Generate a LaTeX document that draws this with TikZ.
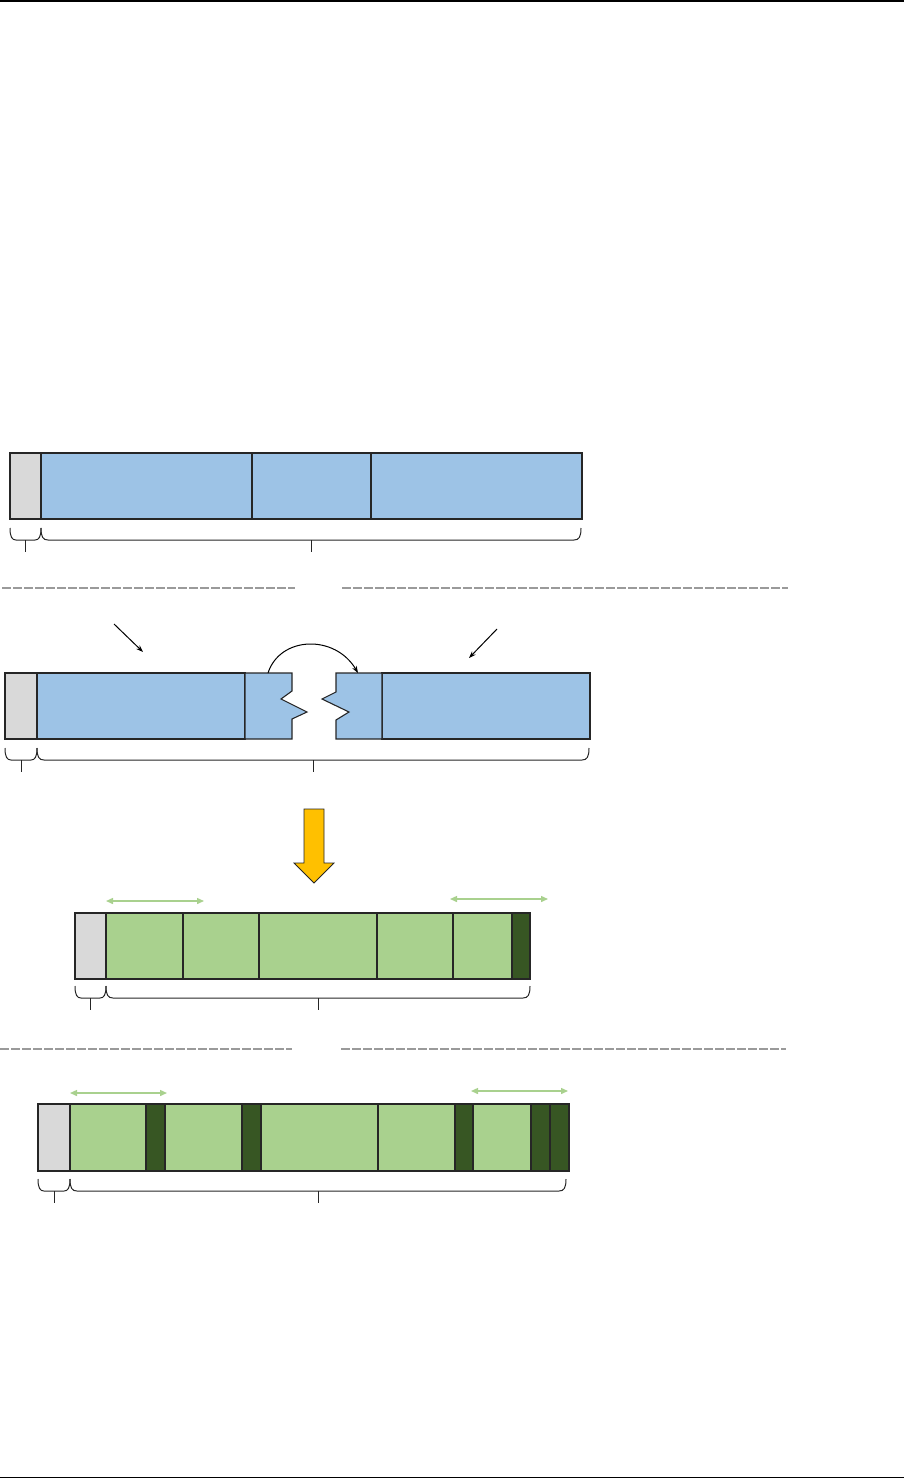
\documentclass[tikz,border=0pt]{standalone}
\usetikzlibrary{arrows.meta}
\definecolor{cblue}{HTML}{9DC3E6}
\definecolor{cgray}{HTML}{D9D9D9}
\definecolor{cgreen}{HTML}{A9D18E}
\definecolor{cdark}{HTML}{375623}
\definecolor{cyell}{HTML}{FFC000}
\definecolor{cdash}{HTML}{9A9A9A}
\tikzset{
  cell/.style={draw=black!85,line width=1.1pt,inner sep=0pt,outer sep=0pt,anchor=north west},
  bracepath/.style={draw=black!85,line width=1pt},
  dashline/.style={draw=cdash,line width=1.4pt,dash pattern=on 9pt off 2pt},
  greenarr/.style={draw=cgreen,line width=1.4pt,{Triangle[length=7pt,width=6pt]}-{Triangle[length=7pt,width=6pt]}},
  blackarr/.style={draw=black,line width=1pt,-{Stealth[length=7pt,width=5pt]}},
}
\newcommand\cell[6]{\node[cell,fill=#6,minimum width={(#3-#2)*1pt},minimum height={(#5-#4)*1pt}] (#1) at (#2,#4) {};}
\newcommand\mybrace[3]{%
  \draw[bracepath] (#1,#3) .. controls (#1,#3+9) and (#1+2,#3+12) .. (#1+7,#3+12)
     -- (#2-7,#3+12) .. controls (#2-2,#3+12) and (#2,#3+9) .. (#2,#3);
  \draw[bracepath] ({(#1+#2)/2},#3+12) -- ({(#1+#2)/2},#3+24);}
\newcommand\mysmallbrace[3]{%
  \draw[bracepath] (#1,#3) .. controls (#1,#3+9) and (#1+2,#3+12) .. (#1+6,#3+12)
     -- (#2-6,#3+12) .. controls (#2-2,#3+12) and (#2,#3+9) .. (#2,#3);
  \draw[bracepath] ({(#1+#2)/2},#3+12) -- ({(#1+#2)/2},#3+24);}
\begin{document}
\begin{tikzpicture}[x=1pt,y=-1pt]
\useasboundingbox (0,0) rectangle (904,1479);
% page rules
\coordinate (tl) at (0,1); \coordinate (tr) at (904,1);
\coordinate (bl) at (0,1477.5); \coordinate (br) at (904,1477.5);
\draw[line width=1.3pt] (tl) -- (tr);
\draw[line width=1.3pt] (bl) -- (br);

% Row 1
\cell{a0}{10}{41}{453}{519}{cgray}
\cell{a1}{41}{252}{453}{519}{cblue}
\cell{a2}{252}{371}{453}{519}{cblue}
\cell{a3}{371}{582}{453}{519}{cblue}
\mysmallbrace{10}{41}{528}
\mybrace{41}{581}{528}

% dashed rule 1
\coordinate (d1a) at (2,588); \coordinate (d1b) at (295,588);
\coordinate (d1c) at (342,588); \coordinate (d1d) at (788,588);
\draw[dashline] (d1a) -- (d1b);
\draw[dashline] (d1c) -- (d1d);

% Row 2
\cell{b0}{5}{37}{673}{739}{cgray}
\cell{b1}{37}{245}{673}{739}{cblue}
\cell{b3}{382}{590}{673}{739}{cblue}
\draw[fill=cblue,draw=black!85,line width=1.1pt] (245,673) -- (292,673) -- (292,691) -- (281,699) -- (307,712) -- (292,719) -- (292,739) -- (245,739) -- cycle;
\draw[fill=cblue,draw=black!85,line width=1.1pt] (336,673) -- (382,673) -- (382,739) -- (336,739) -- (336,720) -- (349,712) -- (322,699) -- (336,692) -- cycle;
\mysmallbrace{5}{37}{748}
\mybrace{37}{589}{748}

% arrows above row 2
\coordinate (la) at (114,624); \coordinate (lb) at (143,652);
\coordinate (ra) at (497,629); \coordinate (rb) at (469,658);
\draw[blackarr] (la) -- (lb);
\draw[blackarr] (ra) -- (rb);
\coordinate (ca) at (268,673); \coordinate (cb) at (358,673);
\draw[blackarr] (ca) .. controls (280,636) and (335,634) .. (cb);

% big yellow arrow
\draw[fill=cyell,draw=black!85,line width=0.8pt] (304,809) -- (324,809) -- (324,863) -- (334,863) -- (314,883) -- (294,863) -- (304,863) -- cycle;

% Row 3
\coordinate (g1a) at (106,901); \coordinate (g1b) at (204,901);
\coordinate (g2a) at (450,899); \coordinate (g2b) at (548,899);
\draw[greenarr] (g1a) -- (g1b);
\draw[greenarr] (g2a) -- (g2b);
\cell{c0}{75}{106}{913}{979}{cgray}
\cell{c1}{106}{183}{913}{979}{cgreen}
\cell{c2}{183}{259}{913}{979}{cgreen}
\cell{c3}{259}{377}{913}{979}{cgreen}
\cell{c4}{377}{453}{913}{979}{cgreen}
\cell{c5}{453}{512}{913}{979}{cgreen}
\cell{c6}{512}{530}{913}{979}{cdark}
\mysmallbrace{75}{106}{986}
\mybrace{106}{530}{986}

% dashed rule 2
\coordinate (d2a) at (0,1049); \coordinate (d2b) at (292,1049);
\coordinate (d2c) at (341,1049); \coordinate (d2d) at (786,1049);
\draw[dashline] (d2a) -- (d2b);
\draw[dashline] (d2c) -- (d2d);

% Row 4
\coordinate (h1a) at (70,1093); \coordinate (h1b) at (167,1093);
\coordinate (h2a) at (471,1091); \coordinate (h2b) at (568,1091);
\draw[greenarr] (h1a) -- (h1b);
\draw[greenarr] (h2a) -- (h2b);
\cell{e0}{38}{70}{1104}{1171}{cgray}
\cell{e1}{70}{146}{1104}{1171}{cgreen}
\cell{e2}{146}{165}{1104}{1171}{cdark}
\cell{e3}{165}{242}{1104}{1171}{cgreen}
\cell{e4}{242}{261}{1104}{1171}{cdark}
\cell{e5}{261}{378}{1104}{1171}{cgreen}
\cell{e6}{378}{455}{1104}{1171}{cgreen}
\cell{e7}{455}{473}{1104}{1171}{cdark}
\cell{e8}{473}{531}{1104}{1171}{cgreen}
\cell{e9}{531}{550}{1104}{1171}{cdark}
\cell{e10}{550}{569}{1104}{1171}{cdark}
\mysmallbrace{38}{70}{1179}
\mybrace{70}{566}{1179}
\end{tikzpicture}
\end{document}
